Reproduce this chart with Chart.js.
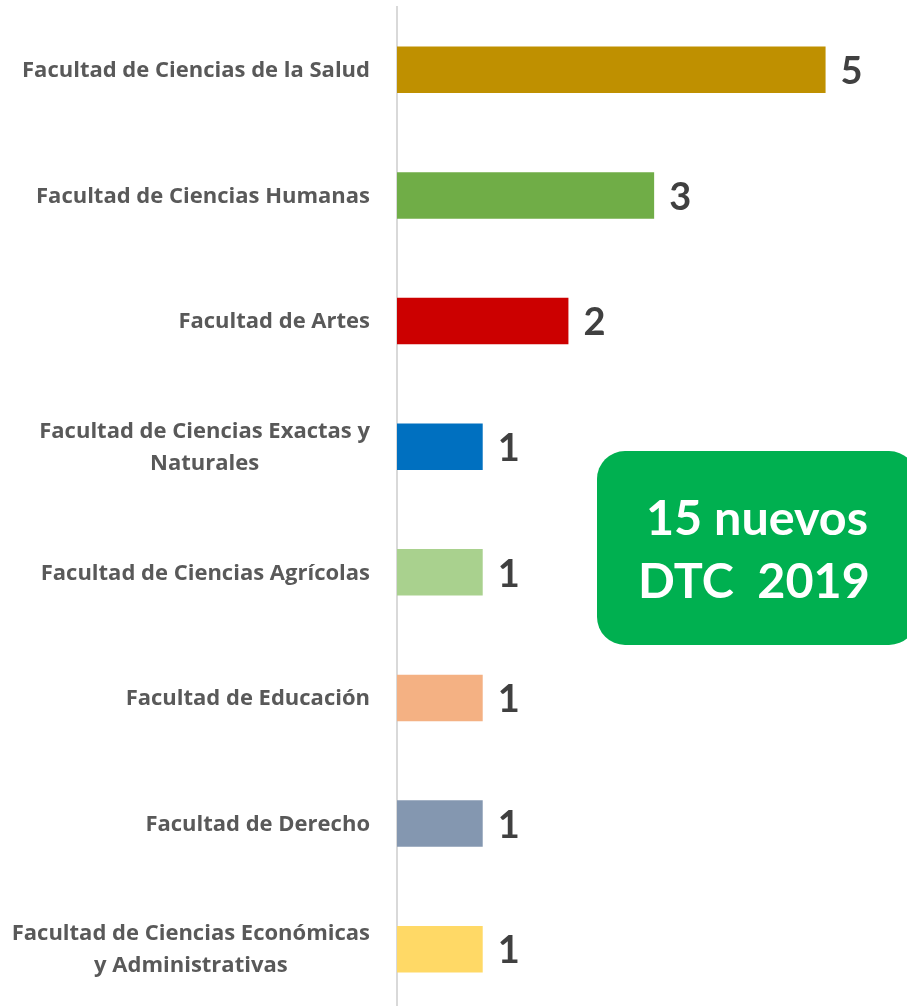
<!DOCTYPE html>
<html>
<head>
<meta charset="utf-8">
<script src="https://cdn.jsdelivr.net/npm/chart.js@4.4.1/dist/chart.umd.min.js"></script>
<style>
html,body{margin:0;padding:0;background:#fff;overflow:hidden;}
#wrap{position:relative;width:907px;height:1012px;}
</style>
</head>
<body>
<div id="wrap"><canvas id="c"></canvas></div>
<script>
const categories = [
  ["Facultad de Ciencias de la Salud"],
  ["Facultad de Ciencias Humanas"],
  ["Facultad de Artes"],
  ["Facultad de Ciencias Exactas y", "Naturales"],
  ["Facultad de Ciencias Agrícolas"],
  ["Facultad de Educación"],
  ["Facultad de Derecho"],
  ["Facultad de Ciencias Económicas", "y Administrativas"]
];
const values = [5, 3, 2, 1, 1, 1, 1, 1];
const barColors = ["#BF9000", "#70AD47", "#CC0000", "#0070C0", "#A9D18E", "#F4B183", "#8497B0", "#FFD966"];
const calloutLines = ["15 nuevos", "DTC  2019"];

const LABEL_FONT = "'Open Sans', sans-serif";
const FONT = "Lato, 'Open Sans', sans-serif";

const labelPlugin = {
  id: 'labels',
  afterDraw(chart) {
    const ctx = chart.ctx;
    const yScale = chart.scales.y;
    const meta = chart.getDatasetMeta(0);
    ctx.save();
    // category labels (right-aligned block, centered lines)
    ctx.font = "bold 22px " + LABEL_FONT;
    ctx.fillStyle = "#595959";
    ctx.textAlign = "center";
    ctx.textBaseline = "middle";
    const rightEdge = yScale.right - 27;
    const lh = 32;
    categories.forEach((lines, i) => {
      const yc = yScale.getPixelForTick(i) + 1;
      const w = Math.max(...lines.map(l => ctx.measureText(l).width));
      const cx = rightEdge - w / 2;
      const y0 = yc - (lines.length - 1) * lh / 2;
      lines.forEach((l, j) => ctx.fillText(l, cx, y0 + j * lh));
    });
    // value labels
    ctx.font = "bold 38px " + FONT;
    ctx.fillStyle = "#404040";
    ctx.textAlign = "left";
    meta.data.forEach((bar, i) => {
      ctx.fillText(String(values[i]), bar.x + 15, bar.y + 2);
    });
    // callout box
    const bx = 597, by = 451, bw = 320, bh = 194, r = 28;
    ctx.fillStyle = "#00B050";
    ctx.beginPath();
    ctx.roundRect(bx, by, bw, bh, r);
    ctx.fill();
    ctx.fillStyle = "#FFFFFF";
    ctx.font = "bold 48.5px " + FONT;
    ctx.textAlign = "center";
    ctx.textBaseline = "alphabetic";
    ctx.fillText(calloutLines[0], 757, 535);
    ctx.fillText(calloutLines[1], 754, 598);
    ctx.restore();
  }
};

new Chart(document.getElementById('c'), {
  type: 'bar',
  data: {
    labels: categories,
    datasets: [{
      data: values,
      backgroundColor: barColors,
      borderWidth: 0,
      barPercentage: 0.37,
      categoryPercentage: 1.0
    }]
  },
  options: {
    indexAxis: 'y',
    responsive: true,
    maintainAspectRatio: false,
    animation: false,
    layout: { padding: { top: 7, right: 0, bottom: 0, left: 0 } },
    plugins: { legend: { display: false }, tooltip: { enabled: false } },
    scales: {
      x: {
        display: false,
        min: 0,
        max: 5.95
      },
      y: {
        afterFit(scale) { scale.width = 397; },
        grid: { display: false, drawTicks: false },
        border: { display: true, color: "#D9D9D9", width: 2 },
        ticks: { display: false }
      }
    }
  },
  plugins: [labelPlugin]
});
</script>
</body>
</html>
